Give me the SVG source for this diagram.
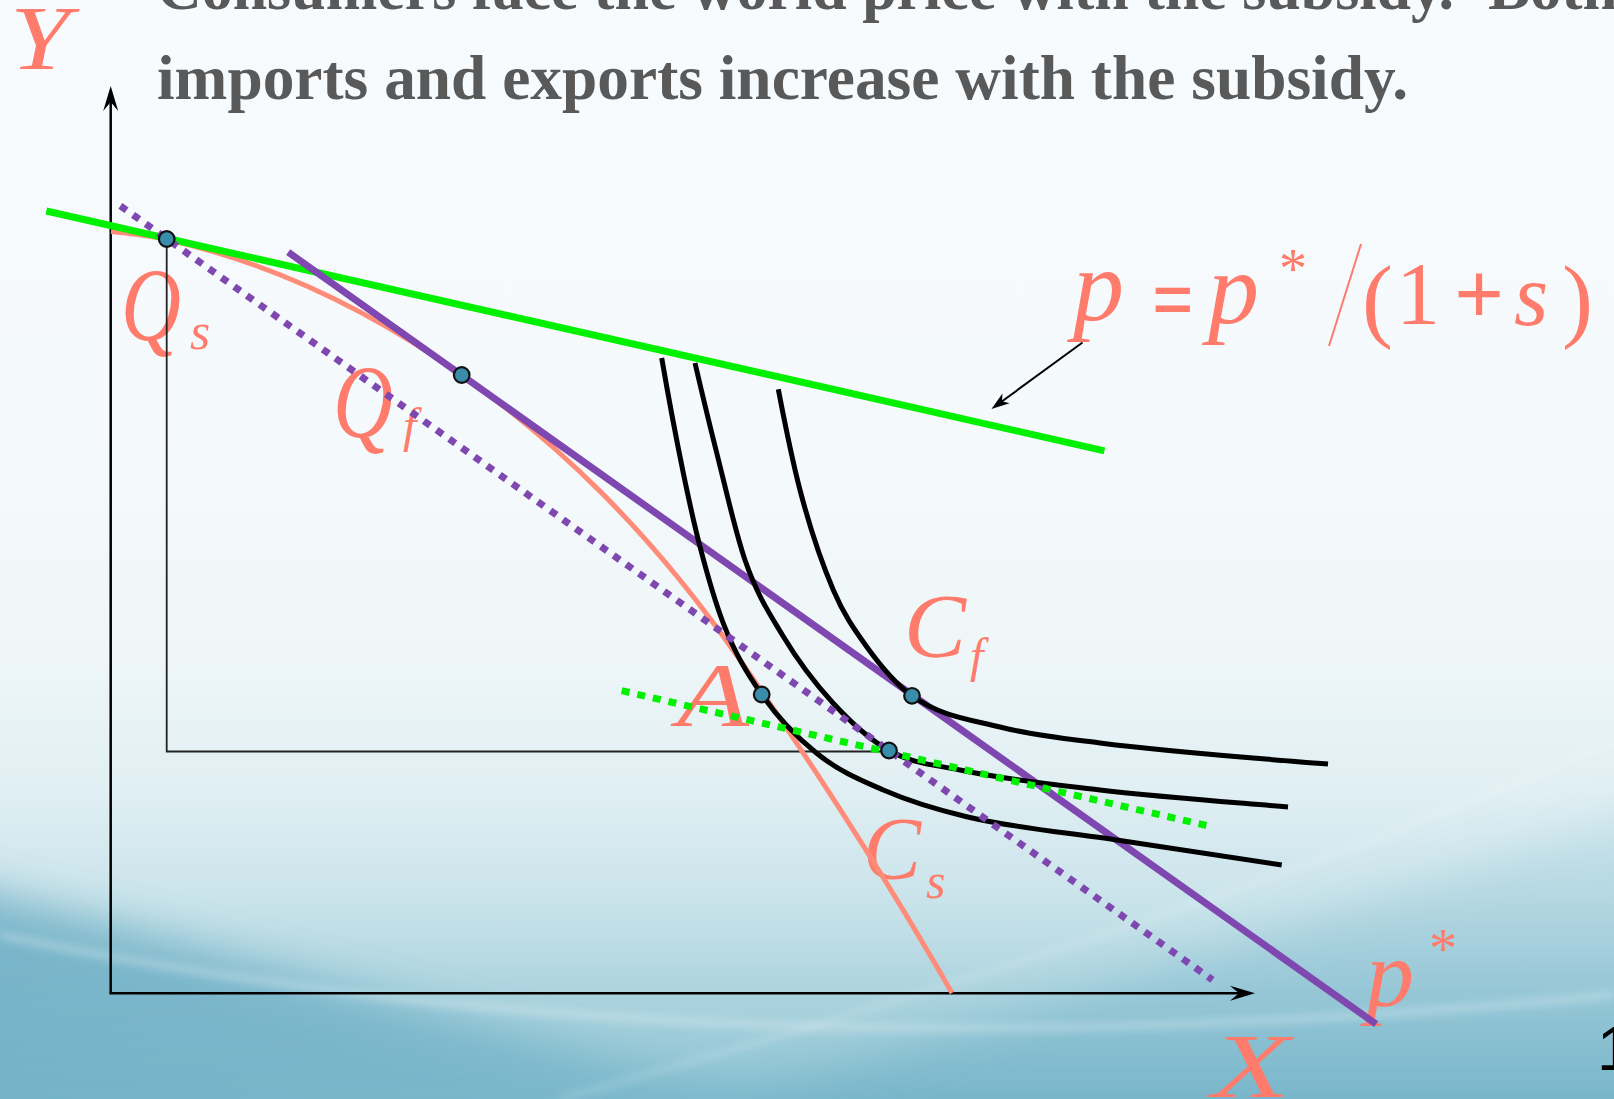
<svg xmlns="http://www.w3.org/2000/svg" width="1614" height="1099" viewBox="0 0 1614 1099">
<defs>
<linearGradient id="bg" x1="0" y1="0" x2="0" y2="1">
<stop offset="0" stop-color="#F8FBFE"/>
<stop offset="0.45" stop-color="#F4F9FB"/>
<stop offset="0.6" stop-color="#EEF6F8"/>
<stop offset="0.72" stop-color="#E0EFF3"/>
<stop offset="0.82" stop-color="#C9E3EA"/>
<stop offset="0.9" stop-color="#ADD4DF"/>
<stop offset="1" stop-color="#8CC2D2"/>
</linearGradient>
<linearGradient id="darkwave" x1="0" y1="0" x2="1" y2="1">
<stop offset="0" stop-color="#5AA2BD"/>
<stop offset="1" stop-color="#7DB9CC"/>
</linearGradient>
<linearGradient id="rightwave" x1="0" y1="0" x2="0" y2="1">
<stop offset="0" stop-color="#8EC3D4" stop-opacity="0.3"/>
<stop offset="1" stop-color="#62A8C1" stop-opacity="0.9"/>
</linearGradient>
<filter id="soft" x="-20%" y="-20%" width="140%" height="140%"><feGaussianBlur stdDeviation="22"/></filter>
<filter id="soft2" x="-10%" y="-50%" width="120%" height="200%"><feGaussianBlur stdDeviation="4"/></filter>
<marker id="axisArrow" markerUnits="userSpaceOnUse" markerWidth="40" markerHeight="24" viewBox="-20 -12 40 24" refX="0" refY="0" orient="auto">
<path d="M10,0 L-15,-7.5 L-6,0 L-15,7.5 Z" fill="#000"/>
</marker>
<marker id="annArrow" markerUnits="userSpaceOnUse" markerWidth="30" markerHeight="20" viewBox="-15 -10 30 20" refX="0" refY="0" orient="auto">
<path d="M6,0 L-12,-6 L-7,0 L-12,6 Z" fill="#000"/>
</marker>
<style>
.title{font-family:"Liberation Serif","DejaVu Serif",serif;font-weight:bold;font-size:63px;fill:#595959}
.lbl{font-family:"Liberation Serif","DejaVu Serif",serif;font-style:italic;fill:#FF7B6B}
.up{font-family:"Liberation Serif","DejaVu Serif",serif;fill:#FF7B6B}
.bold{font-weight:bold;font-style:normal}
.axis{stroke:#000;stroke-width:2.5;fill:none}
.guide{stroke:#222;stroke-width:1.8;fill:none}
.ppf{stroke:#FF8C78;stroke-width:5;fill:none}
.green{stroke:#00F000;stroke-width:7;fill:none}
.greendot{stroke:#00F000;stroke-width:7;stroke-dasharray:8 8;fill:none}
.purple{stroke:#7F48B0;stroke-width:7;fill:none}
.purpledot{stroke:#7F48B0;stroke-width:7;stroke-dasharray:7.5 8;fill:none}
.ic{stroke:#000;stroke-width:5;fill:none}
.dot{fill:#3A8DAA;stroke:#111;stroke-width:2.2}
</style>
</defs>

<g id="background">
<rect x="0" y="0" width="1614" height="1099" fill="url(#bg)"/>
<path d="M620,1140 C1000,1020 1350,910 1700,790 L1700,1140 Z" fill="url(#rightwave)" opacity="0.6" filter="url(#soft)"/>
<path d="M-60,880 C250,960 560,1050 900,1140 L-60,1140 Z" fill="url(#darkwave)" opacity="0.7" filter="url(#soft)"/>
<path d="M0,935 C380,1015 900,1065 1614,995" stroke="#FFFFFF" stroke-opacity="0.3" stroke-width="7" fill="none" filter="url(#soft2)"/>
<path d="M560,1099 C950,990 1300,880 1614,740" stroke="#FFFFFF" stroke-opacity="0.22" stroke-width="5" fill="none" filter="url(#soft2)"/>
</g>

<g id="title">
<text class="title" x="157" y="9" textLength="1297" lengthAdjust="spacingAndGlyphs">Consumers face the world price with the subsidy.</text>
<text class="title" x="1488" y="9">Both</text>
<text class="title" x="157" y="98.5" textLength="1251" lengthAdjust="spacingAndGlyphs">imports and exports increase with the subsidy.</text>
</g>

<g id="labels">
<g id="label-Y"><text class="lbl" x="10" y="69" font-size="92" textLength="60" lengthAdjust="spacingAndGlyphs">Y</text></g>
<g id="label-X"><text class="lbl" x="1212" y="1097" font-size="92" textLength="78" lengthAdjust="spacingAndGlyphs">X</text></g>
<g id="label-Qs"><text class="lbl" x="121" y="340" font-size="104" textLength="60" lengthAdjust="spacingAndGlyphs">Q</text><text class="lbl" x="190" y="349" font-size="52">s</text></g>
<g id="label-Qf"><text class="lbl" x="333" y="437" font-size="104" textLength="60" lengthAdjust="spacingAndGlyphs">Q</text><text class="lbl" x="403" y="442" font-size="48">f</text></g>
<g id="label-Cf"><text class="lbl" x="904" y="657" font-size="92" textLength="62" lengthAdjust="spacingAndGlyphs">C</text><text class="lbl" x="970" y="672" font-size="48">f</text></g>
<g id="label-A"><text class="lbl" x="677" y="726" font-size="92" textLength="72" lengthAdjust="spacingAndGlyphs">A</text></g>
<g id="label-Cs"><text class="lbl" x="863" y="878" font-size="88" textLength="58" lengthAdjust="spacingAndGlyphs">C</text><text class="lbl" x="926" y="898" font-size="50">s</text></g>
<g id="label-pstar"><text class="lbl" x="1366" y="1006" font-size="96">p</text><text class="up" x="1429" y="968" font-size="56">*</text></g>
<g id="label-formula">
<text class="lbl" x="1073" y="320" font-size="102">p</text>
<text class="up bold" x="1152" y="330" font-size="90" textLength="42" lengthAdjust="spacingAndGlyphs">=</text>
<text class="lbl" x="1208" y="323" font-size="102">p</text>
<text class="up" x="1279" y="288" font-size="56">*</text>
<line x1="1329" y1="346" x2="1361" y2="244" stroke="#FF7B6B" stroke-width="2"/>
<text class="up" x="1362" y="329.5" font-size="93">(</text>
<text class="up" x="1396" y="323" font-size="88">1</text>
<text class="up bold" x="1454" y="324" font-size="88">+</text>
<text class="lbl" x="1514" y="325" font-size="88">s</text>
<text class="up" x="1562" y="329.5" font-size="93">)</text>
</g>
<g id="label-page"><text x="1597" y="1070" font-family="Liberation Sans, Arial, sans-serif" font-size="63" fill="#000">1</text></g>
</g>

<g id="connectors">
<line class="axis" x1="110.7" y1="993.3" x2="110.7" y2="96" marker-end="url(#axisArrow)"/>
<line class="axis" x1="109.5" y1="993.3" x2="1245" y2="993.3" marker-end="url(#axisArrow)"/>
<polyline class="guide" points="166.7,239 166.7,751.5 889,751.5"/>
<path class="ppf" d="M111,231.5 Q140,234 166.7,239.3 C264.1,261.6 362.6,304.8 461.7,375 C554.5,440.9 647.2,526.4 740,660 C810.7,761.8 881.3,869.3 952,993"/>
<line class="green" x1="46.3" y1="211" x2="1104.4" y2="450.8"/>
<line class="purple" x1="288.2" y1="252.2" x2="1376.2" y2="1024.2"/>
<path class="ic" d="M661.7,358 C668.9,399.8 676.1,437.9 683.3,473 C688.9,500.1 694.4,525.3 700,546.7 C707.8,576.6 715.5,603.3 723.3,623.3 C736.1,656.2 748.9,675.8 761.7,694.5 C780,721.3 798.4,738.5 816.7,753.3 C838.9,771.3 861.1,780.3 883.3,790 C911.1,802.1 938.9,810.1 966.7,816.7 C1016.7,828.6 1066.7,832.3 1116.7,840 C1171.7,848.4 1226.7,856.8 1281.7,865"/>
<path class="ic" d="M695,363 C702,393.1 709,422.3 716,450 C725.7,488.3 735.3,532 745,560 C757.7,596.7 770.3,614.8 783,636 C799.7,663.8 816.3,684.8 833,703 C851.7,723.3 870.3,740 889,750.5 C912.7,763.8 936.3,765 960,770 C1006.7,779.8 1053.3,784.5 1100,790 C1162.7,797.3 1225.3,801.7 1288,807"/>
<path class="ic" d="M778.3,389.3 C785.5,426.9 792.8,462.4 800,490 C811.1,532.4 822.2,563.9 833.3,590 C844.4,616.2 855.6,631.2 866.7,646.7 C881.8,667.7 896.9,684.9 912,695.8 C941.3,716.9 970.7,719.5 1000,727 C1033.3,735.6 1066.7,738.8 1100,743 C1176,752.6 1252,757.9 1328,764"/>
<line class="purpledot" x1="120.4" y1="205.9" x2="1212.5" y2="979.9"/>
<line class="greendot" x1="621.7" y1="690.7" x2="1206.4" y2="825.5"/>
<line x1="1082.5" y1="342.5" x2="996.3" y2="405.5" stroke="#000" stroke-width="2" marker-end="url(#annArrow)"/>
</g>

<g id="points">
<g id="pt-Qs"><circle class="dot" cx="166.7" cy="239" r="7.8"/></g>
<g id="pt-Qf"><circle class="dot" cx="461.7" cy="375" r="7.8"/></g>
<g id="pt-A"><circle class="dot" cx="761.7" cy="694.5" r="7.8"/></g>
<g id="pt-Cs"><circle class="dot" cx="889" cy="750.5" r="7.8"/></g>
<g id="pt-Cf"><circle class="dot" cx="912" cy="695.8" r="7.8"/></g>
</g>
</svg>
